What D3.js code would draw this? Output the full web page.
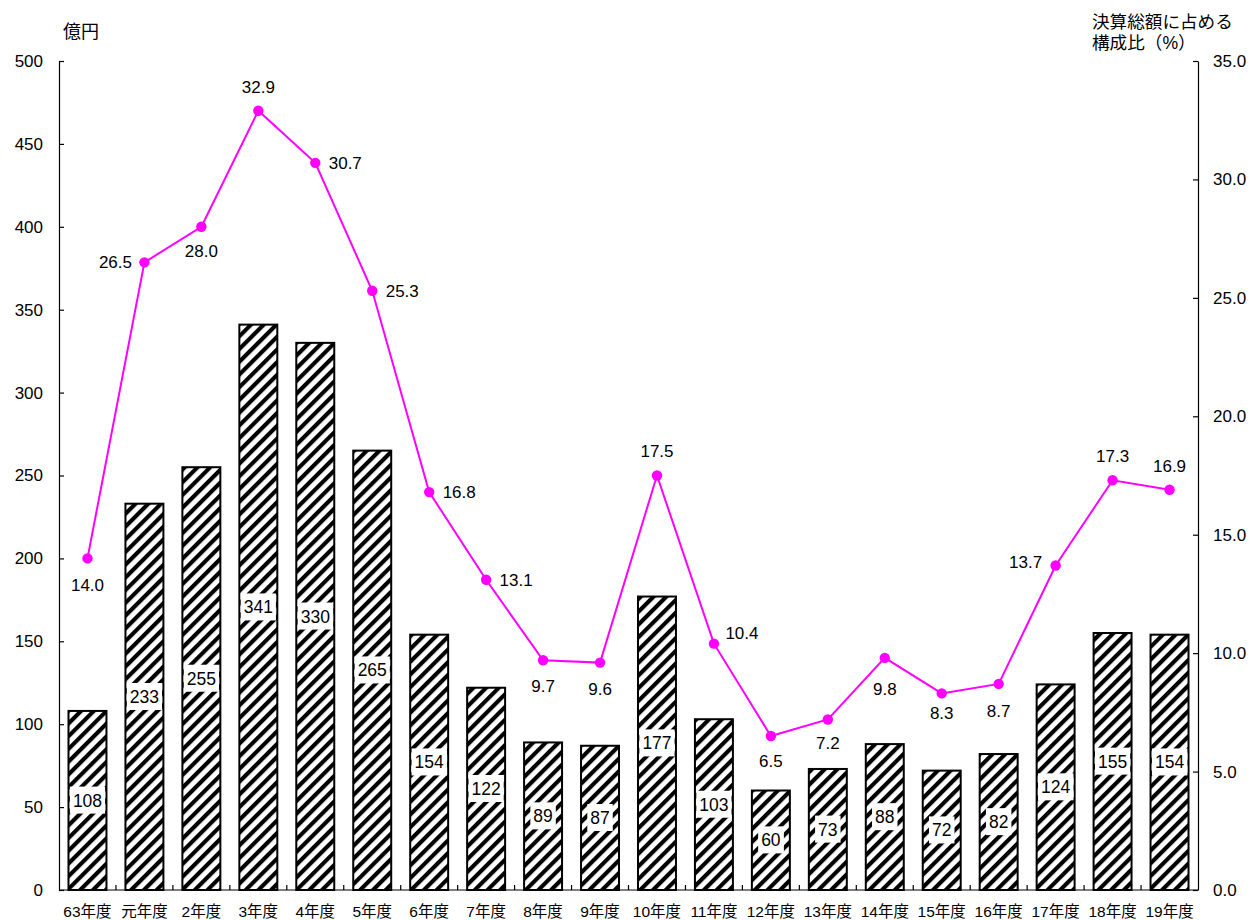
<!DOCTYPE html>
<html>
<head>
<meta charset="utf-8">
<script src="https://cdn.jsdelivr.net/npm/d3@7"></script>
<style>
  body { margin: 0; background: #fff; }
  svg { display: block; }
  text { font-family: "Liberation Sans", "Noto Sans CJK JP", sans-serif; fill: #000; }
</style>
</head>
<body>
<svg id="chart" width="1250" height="920"></svg>
<script>
// Fiscal years
const categories = ["63年度","元年度","2年度","3年度","4年度","5年度","6年度","7年度","8年度","9年度",
                    "10年度","11年度","12年度","13年度","14年度","15年度","16年度","17年度","18年度","19年度"];
// Amount (億円) — bars, left axis
const amounts = [108,233,255,341,330,265,154,122,89,87,177,103,60,73,88,72,82,124,155,154];
// Share of total settled budget (%) — line, right axis
const shares = [14.0,26.5,28.0,32.9,30.7,25.3,16.8,13.1,9.7,9.6,17.5,10.4,6.5,7.2,9.8,8.3,8.7,13.7,17.3,16.9];
// Axis ticks
const leftTicks = [0,50,100,150,200,250,300,350,400,450,500];
const rightTicks = [0,5,10,15,20,25,30,35];
// Placement of each percentage label relative to its marker [dx, dy]
const shareLabelOffsets = [[0,27],[-29,0],[0,24],[0,-24],[30,0],[30,0],[30,0],[30,0],[0,26],[0,26],
                           [0,-24],[28,-11],[0,25],[0,24],[0,31],[0,20],[0,27],[-30,-3],[0,-24],[0,-24]];

const svg = d3.select("#chart");
const plot = { left: 59, right: 1198, top: 61, bottom: 890 };

const x = d3.scaleBand()
  .domain(categories)
  .range([plot.left, plot.right])
  .paddingInner(1/3)
  .paddingOuter(1/6);

const yL = d3.scaleLinear().domain([0, 500]).range([plot.bottom, plot.top]);
const yR = d3.scaleLinear().domain([0, 35]).range([plot.bottom, plot.top]);

// Diagonal hatch fill for bars
const hatchSize = 9;
const defs = svg.append("defs");
const hatch = defs.append("pattern")
  .attr("id", "hatch")
  .attr("patternUnits", "userSpaceOnUse")
  .attr("width", hatchSize)
  .attr("height", hatchSize)
  .attr("patternTransform", "rotate(45)");
hatch.append("rect").attr("width", hatchSize).attr("height", hatchSize).attr("fill", "#fff");
hatch.append("rect").attr("width", hatchSize * 0.46).attr("height", hatchSize).attr("fill", "#000");

// Bars
svg.append("g").selectAll("rect")
  .data(amounts)
  .join("rect")
  .attr("x", (d, i) => x(categories[i]))
  .attr("y", d => yL(d))
  .attr("width", x.bandwidth())
  .attr("height", d => yL(0) - yL(d))
  .attr("fill", "url(#hatch)")
  .attr("stroke", "#000")
  .attr("stroke-width", 2);

// Bar value labels on white boxes, centred in each bar
const barLabels = svg.append("g").selectAll("g")
  .data(amounts)
  .join("g")
  .attr("transform", (d, i) => `translate(${x(categories[i]) + x.bandwidth() / 2},${(yL(d) + yL(0)) / 2})`);
barLabels.append("rect").attr("fill", "#fff");
barLabels.append("text")
  .attr("text-anchor", "middle")
  .attr("dy", "0.35em")
  .attr("font-size", 17.5)
  .text(d => d);
barLabels.each(function () {
  const g = d3.select(this);
  const bb = g.select("text").node().getBBox();
  g.select("rect")
    .attr("x", bb.x - 3)
    .attr("y", bb.y - 4)
    .attr("width", bb.width + 6)
    .attr("height", bb.height + 7);
});

// Axes
const axisL = d3.axisLeft(yL).tickValues(leftTicks).tickSizeInner(-5).tickSizeOuter(0).tickPadding(16);
const gL = svg.append("g").attr("transform", `translate(${plot.left},0)`).call(axisL);
const axisR = d3.axisRight(yR).tickValues(rightTicks).tickSizeInner(-5).tickSizeOuter(0)
  .tickPadding(15).tickFormat(d3.format(".1f"));
const gR = svg.append("g").attr("transform", `translate(${plot.right},0)`).call(axisR);
[gL, gR].forEach(g => {
  g.selectAll("path, line").attr("stroke", "#000").attr("stroke-width", 1.2);
  g.selectAll("text").attr("font-size", 17).attr("font-family", null);
  g.attr("font-family", null);
});

// Category axis: baseline, boundary ticks, labels
const gB = svg.append("g");
gB.append("line")
  .attr("x1", plot.left).attr("x2", plot.right)
  .attr("y1", plot.bottom).attr("y2", plot.bottom)
  .attr("stroke", "#000").attr("stroke-width", 1.2);
const bounds = d3.range(1, categories.length).map(i => x(categories[i]) - x.step() * x.paddingInner() / 2);
gB.selectAll("line.tick")
  .data(bounds)
  .join("line")
  .attr("class", "tick")
  .attr("x1", d => d).attr("x2", d => d)
  .attr("y1", plot.bottom).attr("y2", plot.bottom - 5)
  .attr("stroke", "#000").attr("stroke-width", 1.2);
gB.selectAll("text")
  .data(categories)
  .join("text")
  .attr("x", d => x(d) + x.bandwidth() / 2)
  .attr("y", 912)
  .attr("dy", "0.35em")
  .attr("text-anchor", "middle")
  .attr("font-size", 15.5)
  .text(d => d);

// Share line with markers
const cx = i => x(categories[i]) + x.bandwidth() / 2;
const line = d3.line().x((d, i) => cx(i)).y(d => yR(d));
svg.append("path")
  .datum(shares)
  .attr("d", line)
  .attr("fill", "none")
  .attr("stroke", "#FF00FF")
  .attr("stroke-width", 2);
svg.append("g").selectAll("circle")
  .data(shares)
  .join("circle")
  .attr("cx", (d, i) => cx(i))
  .attr("cy", d => yR(d))
  .attr("r", 5.2)
  .attr("fill", "#FF00FF");
svg.append("g").selectAll("text")
  .data(shares)
  .join("text")
  .attr("x", (d, i) => cx(i) + shareLabelOffsets[i][0])
  .attr("y", (d, i) => yR(d) + shareLabelOffsets[i][1])
  .attr("dy", "0.35em")
  .attr("text-anchor", "middle")
  .attr("font-size", 17)
  .text(d => d3.format(".1f")(d));

// Axis titles
svg.append("text")
  .attr("x", 63).attr("y", 32).attr("dy", "0.35em")
  .attr("font-size", 18)
  .text("億円");
const titleR = svg.append("text").attr("x", 1092).attr("font-size", 17.6);
titleR.append("tspan").attr("x", 1092).attr("y", 22).attr("dy", "0.35em").text("決算総額に占める");
titleR.append("tspan").attr("x", 1092).attr("y", 43).attr("dy", "0.35em").text("構成比（%）");
</script>
</body>
</html>
